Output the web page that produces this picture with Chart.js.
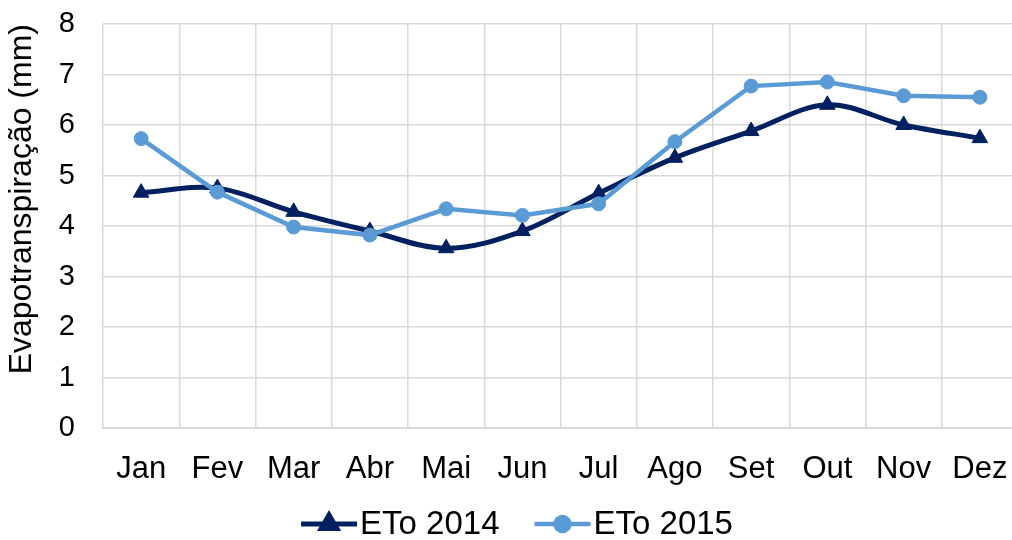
<!DOCTYPE html>
<html>
<head>
<meta charset="utf-8">
<script src="https://cdn.jsdelivr.net/npm/chart.js@4/dist/chart.umd.min.js"></script>
<style>
  html, body { margin: 0; padding: 0; background: #fff; overflow: hidden; }
  #wrap { width: 1018px; height: 540px; }
</style>
</head>
<body>
<div id="wrap"><canvas id="eto" width="1018" height="540"></canvas></div>
<script>
// data
const months = ['Jan', 'Fev', 'Mar', 'Abr', 'Mai', 'Jun', 'Jul', 'Ago', 'Set', 'Out', 'Nov', 'Dez'];
const eto2014 = [4.66, 4.75, 4.28, 3.9, 3.56, 3.9, 4.65, 5.35, 5.88, 6.4, 6.0, 5.74];
const eto2015 = [5.73, 4.67, 3.98, 3.82, 4.34, 4.21, 4.44, 5.67, 6.77, 6.85, 6.58, 6.55];
const yTicks = [0, 1, 2, 3, 4, 5, 6, 7, 8];

const FONT = '"Liberation Sans", Arial, sans-serif';
const NAVY = '#002060';
const LIGHT = '#5B9BD5';
const GRID = '#d9d9d9';

// legend: line with the marker in the middle, like Excel
const lineLegend = {
    id: 'lineLegend',
    afterDraw(chart) {
        const ctx = chart.ctx;
        const items = chart.data.datasets.map(ds => ({
            text: ds.label, color: ds.borderColor, style: ds.pointStyle, r: ds.pointRadius, lw: ds.borderWidth
        }));
        const lineW = 56, gap = 3, itemGap = 35;
        ctx.save();
        ctx.font = '33px ' + FONT;
        let total = 0;
        items.forEach((it, i) => {
            it.w = ctx.measureText(it.text).width;
            total += lineW + gap + it.w + (i ? itemGap : 0);
        });
        let x = 517 - total / 2;
        const y = 524;
        items.forEach(it => {
            ctx.strokeStyle = it.color;
            ctx.lineWidth = it.lw;
            ctx.beginPath();
            ctx.moveTo(x, y);
            ctx.lineTo(x + lineW, y);
            ctx.stroke();
            ctx.fillStyle = it.color;
            Chart.helpers.drawPoint(ctx, { pointStyle: it.style, radius: it.r, rotation: 0, borderWidth: 1 }, x + lineW / 2, y);
            ctx.fillStyle = '#000';
            ctx.textBaseline = 'middle';
            ctx.textAlign = 'left';
            ctx.fillText(it.text, x + lineW + gap, y + 1);
            x += lineW + gap + it.w + itemGap;
        });
        ctx.restore();
    }
};

new Chart(document.getElementById('eto'), {
    type: 'line',
    data: {
        labels: months,
        datasets: [{
            label: 'ETo 2014',
            data: eto2014,
            borderColor: NAVY,
            backgroundColor: NAVY,
            borderWidth: 5,
            tension: 0.35,
            pointStyle: 'triangle',
            pointRadius: 9,
            pointBorderWidth: 1,
            order: 1
        }, {
            label: 'ETo 2015',
            data: eto2015,
            borderColor: LIGHT,
            backgroundColor: LIGHT,
            borderWidth: 4.5,
            tension: 0,
            pointStyle: 'circle',
            pointRadius: 7,
            pointBorderWidth: 1,
            order: 0
        }]
    },
    options: {
        responsive: false,
        animation: false,
        devicePixelRatio: 1,
        layout: { autoPadding: false, padding: { top: 24, right: 0, bottom: 37, left: 0 } },
        plugins: {
            legend: { display: false },
            tooltip: { enabled: false }
        },
        scales: {
            x: {
                offset: true,
                afterFit: s => { s.height = 75; s.paddingLeft = 0; s.paddingRight = 0; },
                grid: { color: GRID, lineWidth: 1.5, offset: true, drawTicks: false },
                border: { color: GRID, width: 2 },
                ticks: { color: '#000', font: { family: FONT, size: 31 }, padding: 23, maxRotation: 0 }
            },
            y: {
                min: 0,
                max: 8,
                afterBuildTicks: s => { s.ticks = yTicks.map(v => ({ value: v })); },
                afterFit: s => { s.width = 103; s.paddingTop = 0; s.paddingBottom = 0; },
                grid: { color: GRID, lineWidth: 1.5, drawTicks: false },
                border: { display: false },
                ticks: { color: '#000', font: { family: FONT, size: 29 }, padding: 28 },
                title: {
                    display: true,
                    text: 'Evapotranspiração (mm)',
                    color: '#000',
                    align: 'end',
                    font: { family: FONT, size: 32 },
                    padding: { top: 3, bottom: 0 }
                }
            }
        }
    },
    plugins: [lineLegend]
});
</script>
</body>
</html>
